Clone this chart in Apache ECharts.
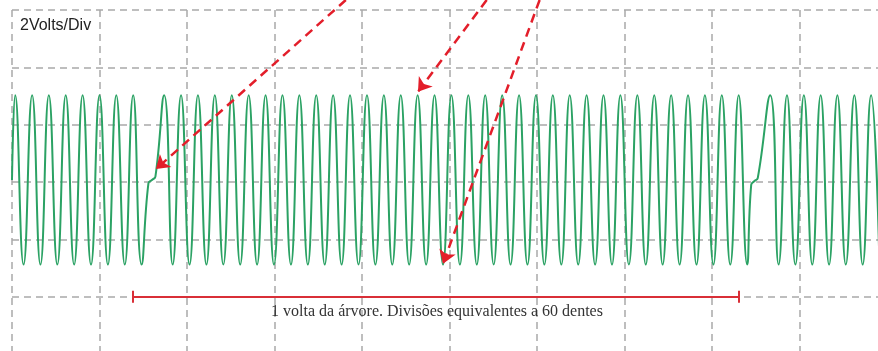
<!DOCTYPE html>
<html>
<head>
<meta charset="utf-8">
<title>Sinal do sensor de rotação</title>
<script src="https://cdn.jsdelivr.net/npm/echarts@6.0.0/dist/echarts.min.js"></script>
<style>
html, body { margin: 0; padding: 0; background: #fff; }
#main { width: 878px; height: 351px; }
</style>
</head>
<body>
<div id="main"></div>
<script>
// tempo em divisões (eixo x), tensão em volts (2 V por divisão)
var P = 3.03, T = -2.88;

// dentes antes da primeira falha
var dentesAntes = [
	[0.000, 0.07],
	[0.037, P], [0.132, T], [0.230, P], [0.325, T], [0.421, P], [0.518, T],
	[0.614, P], [0.710, T], [0.807, P], [0.903, T], [1.000, P], [1.096, T],
	[1.192, P], [1.289, T], [1.385, P], [1.481, T]
];
// falha (dente ausente) 1
var falha1 = [[1.559, -0.05], [1.599, 0.07], [1.639, 0.19]];
// dentes de uma volta
var dentesMeio = [
	[1.739, P], [1.836, T], [1.932, P], [2.029, T], [2.125, P], [2.222, T],
	[2.318, P], [2.415, T], [2.512, P], [2.608, T], [2.705, P], [2.801, T],
	[2.898, P], [2.994, T], [3.091, P], [3.188, T], [3.284, P], [3.381, T],
	[3.477, P], [3.574, T], [3.670, P], [3.767, T], [3.863, P], [3.960, T],
	[4.057, P], [4.153, T], [4.250, P], [4.346, T], [4.443, P], [4.539, T],
	[4.636, P], [4.733, T], [4.829, P], [4.926, T], [5.022, P], [5.119, T],
	[5.215, P], [5.312, T], [5.408, P], [5.505, T], [5.602, P], [5.698, T],
	[5.795, P], [5.891, T], [5.988, P], [6.084, T], [6.181, P], [6.278, T],
	[6.374, P], [6.471, T], [6.567, P], [6.664, T], [6.760, P], [6.857, T],
	[6.953, P], [7.050, T], [7.147, P], [7.243, T], [7.340, P], [7.436, T],
	[7.533, P], [7.630, T], [7.726, P], [7.823, T], [7.919, P], [8.016, T],
	[8.112, P], [8.209, T], [8.305, P], [8.402, T]
];
// falha 2
var falha2 = [[8.448, -0.10], [8.486, 0.035], [8.523, 0.14]];
// dentes depois da segunda falha
var dentesDepois = [
	[8.665, P], [8.761, T], [8.857, P], [8.953, T], [9.050, P], [9.146, T],
	[9.242, P], [9.338, T], [9.433, P], [9.529, T], [9.627, P], [9.722, T],
	[9.818, P], [9.914, T]
];

// setas vermelhas: [início, ponta]
var setas = [
	[[3.815, 6.35], [1.645, 0.45]],
	[[5.425, 6.35], [4.640, 3.15]],
	[[6.030, 6.35], [4.926, -2.85]]
];
// régua de uma volta
var reguaInicio = 1.385, reguaFim = 8.305, reguaY = -4, reguaTique = 0.21;
var textoRegua = '1 volta da árvore. Divisões equivalentes a 60 dentes';
var textoEscala = '2Volts/Div';

var sinal = dentesAntes.concat(falha1, dentesMeio, falha2, dentesDepois);

var myChart = echarts.init(document.getElementById('main'));

var grade = { show: true, lineStyle: { color: '#a9a9a9', width: 1.5, type: [7, 5] } };

var option = {
	animation: false,
	backgroundColor: '#fff',
	grid: { left: 12, right: -9, top: 10, bottom: -3, outerBoundsMode: 'none', containLabel: false },
	xAxis: {
		type: 'value', min: 0, max: 10, interval: 1,
		axisLine: { show: false }, axisTick: { show: false }, axisLabel: { show: false },
		splitLine: grade
	},
	yAxis: {
		type: 'value', min: -6, max: 6, interval: 2,
		axisLine: { show: false }, axisTick: { show: false }, axisLabel: { show: false },
		splitLine: grade
	},
	graphic: [
		{
			type: 'text', x: 20, y: 26, z: 10,
			style: { text: textoEscala, font: '16px "Liberation Sans", Arial, sans-serif', fill: '#222', verticalAlign: 'middle' }
		},
		{
			type: 'text', x: 437, y: 312, z: 10,
			style: { text: textoRegua, font: '16px "Liberation Serif", serif', fill: '#333', align: 'center', verticalAlign: 'middle' }
		}
	],
	series: [
		{
			type: 'line',
			data: sinal,
			smooth: 0.5,
			showSymbol: false,
			lineStyle: { color: '#2ba264', width: 2 },
			z: 2
		},
		{
			type: 'lines',
			coordinateSystem: 'cartesian2d',
			clip: false,
			data: [
				{ coords: [[reguaInicio, reguaY], [reguaFim, reguaY]] },
				{ coords: [[reguaInicio, reguaY - reguaTique], [reguaInicio, reguaY + reguaTique]] },
				{ coords: [[reguaFim, reguaY - reguaTique], [reguaFim, reguaY + reguaTique]] }
			],
			symbol: 'none',
			lineStyle: { color: '#d92f37', width: 2, type: 'solid', opacity: 1, curveness: 0 },
			z: 3
		},
		{
			type: 'lines',
			coordinateSystem: 'cartesian2d',
			clip: false,
			data: setas.map(function (s) { return { coords: s }; }),
			symbol: ['none', 'arrow'],
			symbolSize: 13,
			lineStyle: { color: '#e31e2a', width: 2.5, type: [9, 6], opacity: 1, curveness: 0 },
			z: 4
		}
	]
};

myChart.setOption(option);
</script>
</body>
</html>
